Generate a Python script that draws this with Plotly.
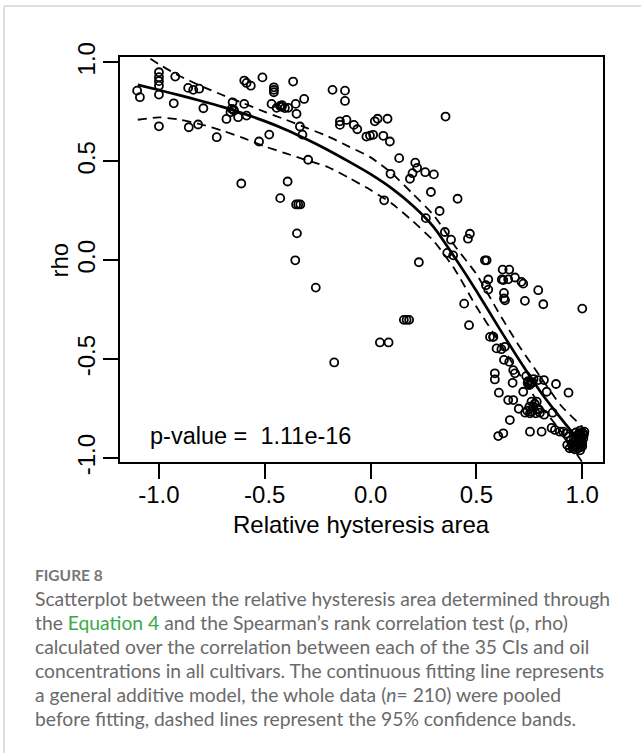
import plotly.graph_objects as go

# Relative hysteresis area (x) and Spearman's rho (y), 35 CIs x cultivars pooled (n = 210)
hyst_area = [
    -1.103, -1.09, -1.0, -1.0, -1.0, -1.0, -1.0, -1.0, -0.923, -0.93,
    -0.862, -0.838, -0.81, -0.859, -0.815, -0.79, -0.727, -0.681, -0.652, -0.657,
    -0.645, -0.662, -0.626, -0.597, -0.586, -0.566, -0.597, -0.586, -0.511, -0.527,
    -0.479, -0.457, -0.457, -0.457, -0.468, -0.444, -0.428, -0.418, -0.405, -0.389,
    -0.366, -0.354, -0.35, -0.334, -0.322, -0.314, -0.295, -0.611, -0.427, -0.392,
    -0.352, -0.342, -0.332, -0.348, -0.356, -0.259, -0.172,
    -0.18, -0.121, -0.121, -0.145, -0.145, -0.114, -0.079, -0.063, -0.02, -0.003,
    0.012, 0.02, 0.033, 0.08, 0.06, 0.091, 0.064, 0.135, 0.094, 0.186,
    0.198, 0.211, 0.22, 0.258, 0.299, 0.354, 0.285, 0.411, 0.261, 0.326,
    0.351, 0.38, 0.469, 0.46, 0.362, 0.39, 0.228, 0.540, 0.548, 0.157,
    0.17, 0.182, 0.044, 0.085,
    0.624, 0.655, 0.556, 0.545, 0.556, 0.627, 0.65, 0.682, 0.713, 0.721,
    0.63, 0.63, 0.635, 0.729, 0.792, 0.816, 1.0, 0.442, 0.465, 0.564,
    0.579,
    0.595, 0.618, 0.634, 0.63, 0.655, 0.587, 0.587, 0.674, 0.682, 0.671,
    0.606, 0.721, 0.735, 0.745, 0.755, 0.765, 0.75, 0.77, 0.792, 0.819,
    0.832, 0.876, 0.935, 0.65, 0.674, 0.76, 0.785, 0.75, 0.77, 0.795,
    0.76, 0.70, 0.73, 0.753, 0.78, 0.8, 0.82, 0.86, 0.658, 0.603,
    0.627, 0.753, 0.808, 0.855, 0.871, 0.894, 0.91, 0.923, 0.934, 0.929,
    0.94, 0.955,
    0.97, 0.98, 0.99, 1.0, 1.008, 0.985, 0.995, 0.975, 0.99, 1.0,
    0.965, 0.98, 1.005, 0.96, 0.99, 0.99, 1.01, 0.985, 0.995, 0.975,
    1.0, 0.97, 0.99, 0.965, 0.985, 0.95, 0.945, 0.742, 0.76, 0.775,
    0.79, 0.74, -0.648, -0.42, 0.62, 0.58,
]
rho = [
    0.857, 0.824, 0.950, 0.925, 0.905, 0.882, 0.837, 0.677, 0.928, 0.793,
    0.871, 0.861, 0.867, 0.672, 0.686, 0.768, 0.622, 0.714, 0.798, 0.765,
    0.756, 0.748, 0.723, 0.908, 0.896, 0.882, 0.79, 0.731, 0.924, 0.60,
    0.635, 0.874, 0.861, 0.849, 0.79, 0.77, 0.78, 0.784, 0.769, 0.77,
    0.903, 0.79, 0.74, 0.676, 0.635, 0.815, 0.508, 0.388, 0.314, 0.398,
    0.282, 0.282, 0.282, 0.136, 0.0, -0.138, -0.516,
    0.861, 0.857, 0.805, 0.702, 0.684, 0.709, 0.684, 0.662, 0.625, 0.63,
    0.634, 0.702, 0.715, 0.715, 0.629, 0.6, 0.303, 0.516, 0.437, 0.412,
    0.44, 0.493, 0.467, 0.445, 0.434, 0.726, 0.345, 0.311, 0.213, 0.249,
    0.143, 0.104, 0.134, 0.109, 0.037, 0.025, -0.01, 0.0, 0.0, -0.301,
    -0.301, -0.301, -0.415, -0.415,
    -0.047, -0.047, -0.097, -0.126, -0.148, -0.1, -0.096, -0.087, -0.109, -0.118,
    -0.165, -0.193, -0.202, -0.205, -0.151, -0.222, -0.244, -0.219, -0.328, -0.387,
    -0.387,
    -0.445, -0.449, -0.437, -0.503, -0.513, -0.571, -0.602, -0.555, -0.571, -0.619,
    -0.669, -0.664, -0.585, -0.61, -0.625, -0.615, -0.63, -0.60, -0.605, -0.605,
    -0.664, -0.625, -0.669, -0.706, -0.706, -0.714, -0.714, -0.74, -0.74, -0.755,
    -0.765, -0.75, -0.77, -0.773, -0.773, -0.77, -0.78, -0.77, -0.807, -0.888,
    -0.874, -0.866, -0.866, -0.847, -0.857, -0.866, -0.866, -0.876, -0.891, -0.933,
    -0.95, -0.95,
    -0.87, -0.88, -0.86, -0.87, -0.88, -0.90, -0.91, -0.92, -0.93, -0.94,
    -0.94, -0.95, -0.90, -0.90, -0.96, -0.874, -0.866, -0.88, -0.895, -0.935,
    -0.925, -0.91, -0.945, -0.955, -0.925, -0.93, -0.91, -0.62, -0.62, -0.725,
    -0.75, -0.76, 0.762, 0.775, -0.097, -0.387,
]

# GAM fit and its 95% confidence band on an evaluation grid
fit_grid = [-1.1, -1.0, -0.9, -0.8, -0.7, -0.6, -0.5, -0.4, -0.3, -0.2, -0.1,
            0.0, 0.1, 0.2, 0.3, 0.4, 0.5, 0.6, 0.7, 0.8, 0.9, 1.0]
fit_rho = [0.886, 0.86, 0.833, 0.805, 0.775, 0.741, 0.703, 0.66, 0.61, 0.556, 0.497,
           0.435, 0.363, 0.275, 0.165, 0.01, -0.155, -0.33, -0.50, -0.66, -0.80, -0.93]
upper_rho = [1.06, 0.99, 0.93, 0.88, 0.835, 0.793, 0.75, 0.71, 0.668, 0.625, 0.573,
             0.52, 0.44, 0.335, 0.225, 0.07, -0.07, -0.255, -0.43, -0.585, -0.735, -0.84]
lower_rho = [0.71, 0.722, 0.71, 0.686, 0.655, 0.617, 0.575, 0.54, 0.505, 0.47, 0.415,
             0.355, 0.287, 0.197, 0.095, -0.05, -0.235, -0.40, -0.57, -0.73, -0.865, -1.02]

tick_vals = [-1.0, -0.5, 0.0, 0.5, 1.0]
tick_text = ["-1.0", "-0.5", "0.0", "0.5", "1.0"]
p_value_label = "p-value =  1.11e-16"

caption_lines = [
    "Scatterplot between the relative hysteresis area determined through",
    "the <span style='color:#3aaa48'>Equation 4</span> and the Spearman\u2019s rank correlation test (\u03c1, rho)",
    "calculated over the correlation between each of the 35 CIs and oil",
    "concentrations in all cultivars. The continuous fitting line represents",
    "a general additive model, the whole data (<i>n</i>= 210) were pooled",
    "before fitting, dashed lines represent the 95% confidence bands.",
]

# ---- page geometry (pixels) ----
W, H = 641, 753
ML, MR, MT, MB = 120, 38, 57, 291
PW, PH = W - ML - MR, H - MT - MB


def fx(px):
    return (px - ML) / PW


def fy(py):
    return (H - MB - py) / PH


AX_FONT = "Liberation Sans, Arial, Helvetica, sans-serif"
CAP_FONT = "Lato, Open Sans, sans-serif"

fig = go.Figure()

fig.add_trace(go.Scatter(
    x=hyst_area, y=rho, mode="markers",
    marker=dict(symbol="circle-open", size=8, color="black", line=dict(width=1.8, color="black")),
    cliponaxis=False, hoverinfo="skip",
))
for band in (upper_rho, lower_rho):
    fig.add_trace(go.Scatter(
        x=fit_grid, y=band, mode="lines",
        line=dict(color="black", width=1.8, dash="9px,6px", shape="spline", smoothing=0.6),
        hoverinfo="skip",
    ))
fig.add_trace(go.Scatter(
    x=fit_grid, y=fit_rho, mode="lines",
    line=dict(color="black", width=2.7, shape="spline", smoothing=0.6),
    hoverinfo="skip",
))

axis_common = dict(
    tickvals=tick_vals, ticktext=tick_text, ticks="outside", ticklen=15, tickwidth=1.5,
    tickcolor="black", showline=True, linecolor="black", linewidth=1.8, mirror=True,
    showgrid=False, zeroline=False, tickfont=dict(family=AX_FONT, size=24, color="black"),
)
fig.update_xaxes(range=[-1.184, 1.098], ticklabelstandoff=-5, **axis_common)
fig.update_yaxes(range=[-1.019, 1.027], tickangle=-90, ticklabelstandoff=-1, **axis_common)

annotations = [
    dict(x=fx(148), y=fy(436), text=p_value_label, xanchor="left", yanchor="middle",
         font=dict(family=AX_FONT, size=23.5, color="black")),
    dict(x=fx(361.5), y=fy(524), text="Relative hysteresis area", xanchor="center", yanchor="middle",
         font=dict(family=AX_FONT, size=24, color="black")),
    dict(x=fx(58.5), y=fy(260), text="rho", textangle=-90, xanchor="center", yanchor="middle",
         font=dict(family=AX_FONT, size=24, color="black")),
    dict(x=fx(33), y=fy(575), text="<b>FIGURE 8</b>", xanchor="left", yanchor="middle",
         font=dict(family=CAP_FONT, size=15.5, color="#777777")),
]
for i, line in enumerate(caption_lines):
    annotations.append(dict(
        x=fx(33), y=fy(598 + 24 * i), text=line, xanchor="left", yanchor="middle",
        font=dict(family=CAP_FONT, size=19.3, color="#6a6a6a"),
    ))
for a in annotations:
    a.update(xref="paper", yref="paper", showarrow=False)

# card outline around the figure
shapes = [
    dict(type="line", xref="paper", yref="paper", x0=fx(4), y0=fy(6), x1=fx(W + 2), y1=fy(6),
         line=dict(color="#d4d4d4", width=1.5)),
    dict(type="line", xref="paper", yref="paper", x0=fx(4), y0=fy(6), x1=fx(4), y1=fy(H + 2),
         line=dict(color="#d4d4d4", width=1.5)),
]

fig.update_layout(
    width=W, height=H, margin=dict(l=ML, r=MR, t=MT, b=MB, pad=0),
    plot_bgcolor="white", paper_bgcolor="white", showlegend=False,
    annotations=annotations, shapes=shapes,
)

fig.write_html("out.html")
